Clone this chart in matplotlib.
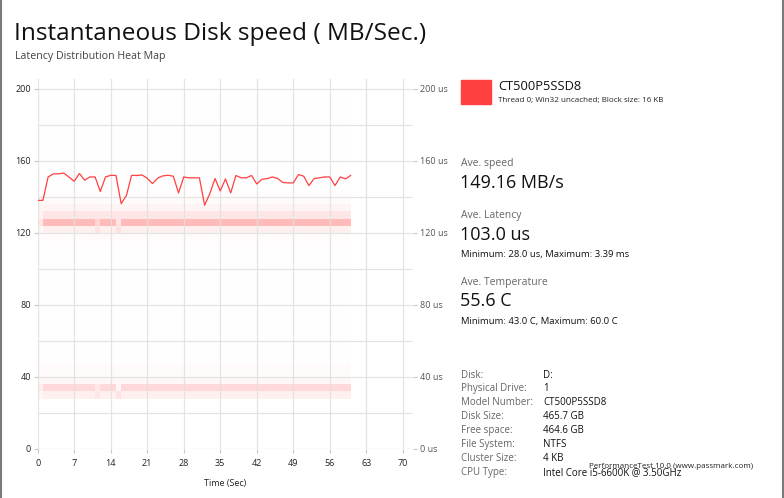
import matplotlib
matplotlib.use("Agg")
import matplotlib.pyplot as plt
import numpy as np
from matplotlib.colors import LinearSegmentedColormap
from matplotlib.lines import Line2D
from matplotlib.patches import Rectangle

plt.rcParams["font.family"] = ["Open Sans", "DejaVu Sans"]

# speed line (MB/s), one sample per second
time_s = list(range(61))
speed = [138.1, 138.1, 151.1, 152.8, 152.8, 153.3, 151.0, 148.7, 153.0, 149.3,
         151.1, 151.1, 143.0, 151.1, 152.0, 151.9, 136.3, 140.7, 152.0, 151.9,
         152.2, 150.4, 147.4, 150.4, 151.7, 152.0, 151.5, 142.2, 151.1, 150.6,
         150.6, 150.6, 135.4, 141.9, 150.2, 143.3, 150.0, 142.2, 151.9, 150.6,
         150.6, 151.9, 147.2, 149.8, 150.2, 151.1, 150.2, 148.0, 147.8, 147.8,
         152.4, 151.5, 146.3, 150.2, 150.6, 151.1, 151.1, 146.3, 151.1, 150.0,
         151.9]

# latency heat map: 60 one-second columns, 4 us rows from 0 to 200
n_cols = 60
row_edges = list(range(0, 204, 4))
# intensity per row (lower edge 0, 4, 8, ... 196)
row_level = [0, 0, 0, 0, 0, 0, 0, 0.08, 0.2, 0.05,
             0.03, 0.025, 0.008, 0.005, 0.005, 0.005, 0.005, 0.005, 0.005, 0.005,
             0.005, 0.005, 0.005, 0.005, 0.005, 0.005, 0.005, 0.005, 0.012, 0.025,
             0.08, 0.36, 0.13, 0.06, 0.025, 0.012, 0.01, 0.01, 0.01, 0.01,
             0.01, 0.008, 0.008, 0.008, 0.008, 0.006, 0.006, 0.006, 0.006, 0.006]
# columns where the latency bands look different: {column: {row: level}}
col_override = {
    0: {7: 0.05, 8: 0.1, 30: 0.05, 31: 0.13, 32: 0.06},
    11: {7: 0.14, 8: 0.12, 30: 0.15, 31: 0.22},
    15: {7: 0.15, 8: 0.05, 30: 0.16, 31: 0.14},
}

disk_labels = ["Disk:", "Physical Drive:", "Model Number:", "Disk Size:",
               "Free space:", "File System:", "Cluster Size:", "CPU Type:"]
disk_values = ["D:", "1", "CT500P5SSD8", "465.7 GB", "464.6 GB", "NTFS",
               "4 KB", "Intel Core i5-6600K @ 3.50GHz"]

x_ticks = list(range(0, 71, 7))
y_ticks = [0, 40, 80, 120, 160, 200]

red = "#ff4040"
fig = plt.figure(figsize=(7.84, 4.98), dpi=100)
fig.patch.set_facecolor("white")

ax = fig.add_axes([0.0481, 0.0984, 0.479, 0.743])
ax.set_xlim(0, 72)
ax.set_ylim(0, 205.5)

heat = np.tile(np.array(row_level), (n_cols, 1)).T
for c, rows in col_override.items():
    for r, v in rows.items():
        heat[r, c] = v
cmap = LinearSegmentedColormap.from_list("pink", ["#ffffff", red])
ax.pcolormesh(np.arange(n_cols + 1), row_edges, heat, cmap=cmap,
              vmin=0, vmax=1, shading="flat", zorder=1)

ax.plot(time_s, speed, color=red, linewidth=0.9, zorder=3)

ax.set_xticks(x_ticks)
ax.set_yticks(y_ticks)
ax.set_yticks(range(0, 201, 20), minor=True)
ax.grid(True, which="both", color="#e0e0e0", linewidth=0.9, alpha=0.85, zorder=2)
ax.set_axisbelow(False)
for s in ax.spines.values():
    s.set_visible(False)
ax.tick_params(axis="both", which="major", length=3, color="#c8c8c8",
               labelsize=6.5, labelcolor="#222222", pad=2)
ax.tick_params(axis="x", pad=4)
ax.tick_params(axis="y", which="minor", length=0)
ax.set_xlabel("Time (Sec)", fontsize=6.5, color="#222222", labelpad=8)

ax2 = ax.twinx()
ax2.set_ylim(ax.get_ylim())
ax2.set_yticks(y_ticks)
ax2.set_yticklabels([f"{v} us" for v in y_ticks])
for s in ax2.spines.values():
    s.set_visible(False)
ax2.tick_params(axis="y", length=3, color="#c8c8c8", labelsize=6.5,
                labelcolor="#555555", pad=2)

fig.text(14 / 784, 1 - 34 / 498, "Instantaneous Disk speed ( MB/Sec.)",
         fontsize=17.6, color="#111111", va="center")
fig.text(15 / 784, 1 - 57 / 498, "Latency Distribution Heat Map",
         fontsize=7.7, color="#444444", va="center")

fig.patches.append(Rectangle((461 / 784, 1 - 104 / 498), 30 / 784, 24 / 498,
                             transform=fig.transFigure, color=red))
fig.text(498 / 784, 1 - 86 / 498, "CT500P5SSD8", fontsize=9.3,
         color="#111111", va="center")
fig.text(498 / 784, 1 - 100 / 498, "Thread 0; Win32 uncached; Block size: 16 KB",
         fontsize=5.8, color="#222222", va="center")

gray = "#666666"
fig.text(461 / 784, 1 - 163 / 498, "Ave. speed", fontsize=7.5, color=gray, va="center")
fig.text(460 / 784, 1 - 183 / 498, "149.16 MB/s", fontsize=13, color="#111111", va="center")
fig.text(461 / 784, 1 - 215 / 498, "Ave. Latency", fontsize=7.5, color=gray, va="center")
fig.text(460 / 784, 1 - 235 / 498, "103.0 us", fontsize=13, color="#111111", va="center")
fig.text(461 / 784, 1 - 254 / 498, "Minimum: 28.0 us, Maximum: 3.39 ms",
         fontsize=6.8, color="#111111", va="center")
fig.text(461 / 784, 1 - 282 / 498, "Ave. Temperature", fontsize=7.5, color=gray, va="center")
fig.text(460 / 784, 1 - 301 / 498, "55.6 C", fontsize=13, color="#111111", va="center")
fig.text(461 / 784, 1 - 321 / 498, "Minimum: 43.0 C, Maximum: 60.0 C",
         fontsize=6.8, color="#111111", va="center")

for i, (lab, val) in enumerate(zip(disk_labels, disk_values)):
    y = 1 - (375 + i * 13.9) / 498
    fig.text(461 / 784, y, lab, fontsize=7.0, color=gray, va="center")
    fig.text(543 / 784, y, val, fontsize=7.0, color="#111111", va="center")

# credit line sits over the CPU value, as in the source screen
fig.text(589 / 784, 1 - 466 / 498, "PerformanceTest 10.0 (www.passmark.com)",
         fontsize=5.8, color="#222222", va="center")

# window borders
fig.lines.append(Line2D([0.001, 0.001], [0, 1], transform=fig.transFigure,
                        color="#7a7a7a", linewidth=1.5))
fig.lines.append(Line2D([0.999, 0.999], [0, 1], transform=fig.transFigure,
                        color="#7a7a7a", linewidth=1.5))

fig.savefig("out.png", dpi=100, facecolor="white")
